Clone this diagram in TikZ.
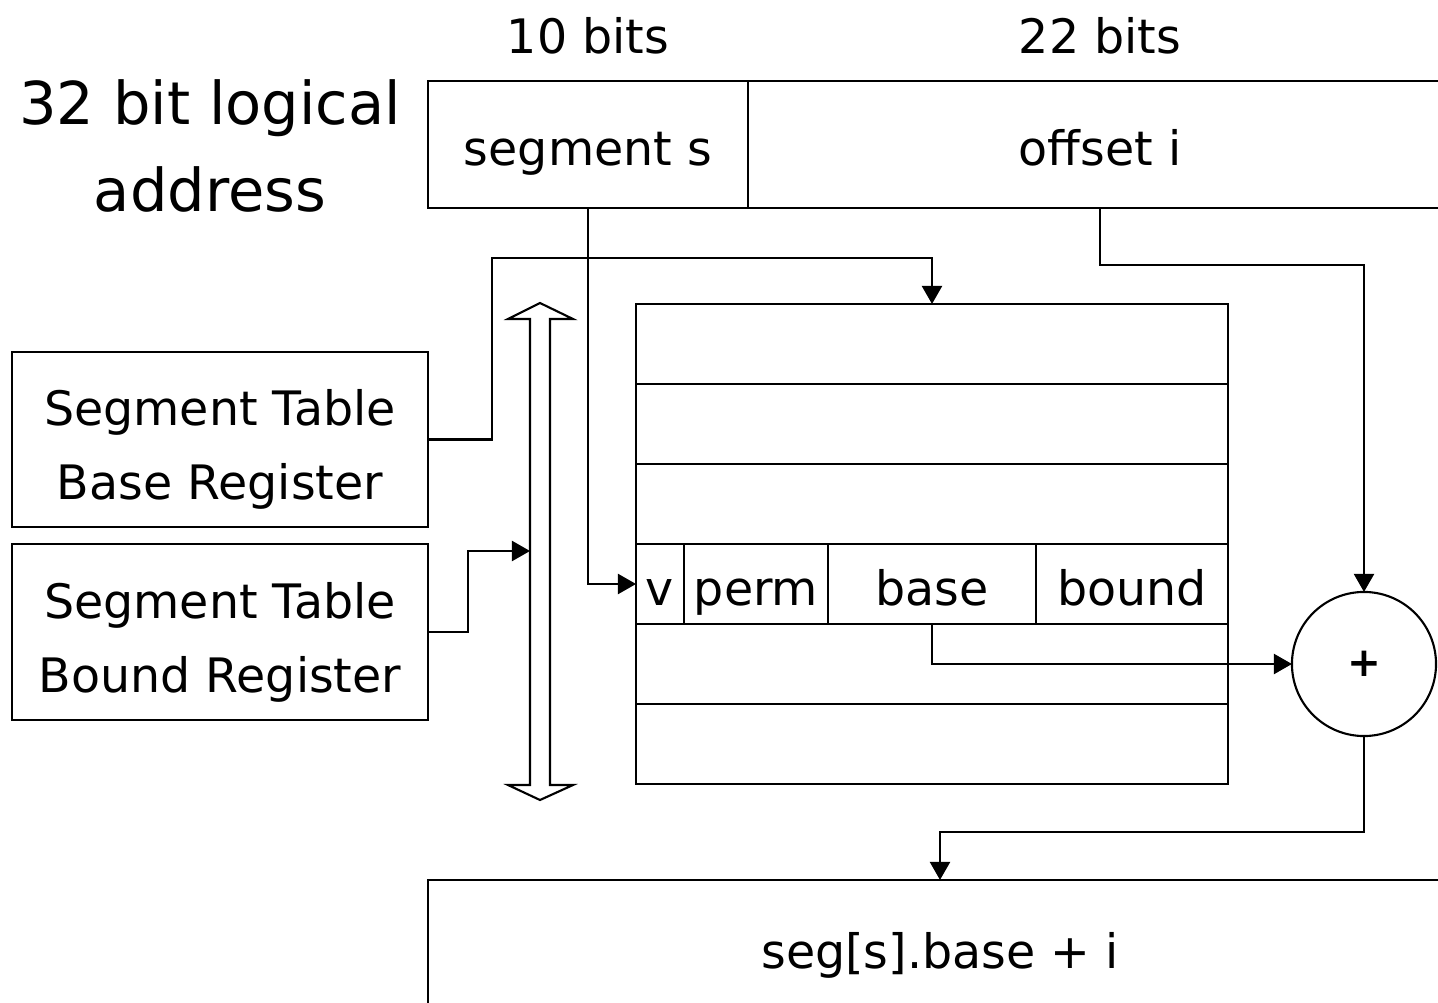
\documentclass[tikz,border=0pt]{standalone}
\usepackage{fontspec}
\setmainfont{DejaVu Sans}
\usetikzlibrary{arrows.meta}
\tikzset{
  x=0.01cm, y=-0.01cm,
  every node/.style={inner sep=0pt, outer sep=0pt},
  txt/.style={font=\fontsize{13.5}{21}\selectfont, align=center},
  bigtxt/.style={font=\fontsize{16.8}{25}\selectfont, align=center},
  box/.style={draw, line width=0.6pt, txt},
  oneline/.style={text height=12pt, text depth=0pt},
  conn/.style={line width=0.6pt, -{Triangle[length=0.18cm, width=0.2cm]}},
}
\begin{document}
\begin{tikzpicture}
\useasboundingbox (0,0) rectangle (1438,1003);
\clip (0,0) rectangle (1438,1003);
% titles
\node[txt, oneline] (b10) at (588,32) {10 bits};
\node[txt, oneline] (b22) at (1100,32) {22 bits};
\node[bigtxt] (title) at (210,146) {32 bit logical\\address};
% logical address
\node[box, oneline, minimum width=3.2cm, minimum height=1.27cm] (seg) at (588,144.5) {segment s};
\node[box, oneline, minimum width=7.04cm, minimum height=1.27cm] (off) at (1100,144.5) {offset i};
% registers
\node[box, minimum width=4.16cm, minimum height=1.75cm,
  label={[txt, yshift=-0.1cm]center:{Segment Table\\Base Register}}] (stbr) at (220,439.5) {};
\node[box, minimum width=4.16cm, minimum height=1.76cm,
  label={[txt, yshift=-0.1cm]center:{Segment Table\\Bound Register}}] (stlr) at (220,632) {};
% segment table
\foreach \n/\y in {r1/344, r2/424, r3/504, r5/664, r6/744}
  \node[box, minimum width=5.92cm, minimum height=0.8cm] (\n) at (932,\y) {};
\node[box, oneline, minimum width=0.48cm, minimum height=0.8cm] (v) at (660,584) {v};
\node[box, oneline, minimum width=1.44cm, minimum height=0.8cm] (perm) at (756,584) {perm};
\node[box, oneline, minimum width=2.08cm, minimum height=0.8cm] (base) at (932,584) {base};
\node[box, oneline, minimum width=1.92cm, minimum height=0.8cm] (bound) at (1132,584) {bound};
% adder
\node[draw, line width=0.6pt, circle, minimum size=1.44cm, font=\fontsize{11.5}{13}\selectfont\bfseries] (plus) at (1364,664) {+};
% result
\node[box, oneline, minimum width=10.24cm, minimum height=1.34cm] (res) at (940,947) {seg[s].base + i};
% double arrow (bus)
\draw[line width=0.6pt, line join=miter] (540,303) -- (573,319) -- (550,319) -- (550,785) -- (573,785) -- (540,800)
  -- (508,785) -- (530,785) -- (530,319) -- (508,319) -- cycle;
\coordinate (bus) at (530,551);
% connectors
\draw[conn] (stbr.east) -- (492,439.5) -- (492,258) -| (r1.north);
\draw[conn] (stlr.east) -- (468,632) |- (bus);
\draw[conn] (seg.south) |- (v.west);
\draw[conn] (off.south) -- (1100,265) -| (plus.north);
\draw[conn] (base.south) |- (plus.west);
\draw[conn] (plus.south) -- (1364,832) -| (res.north);
\end{tikzpicture}
\end{document}
